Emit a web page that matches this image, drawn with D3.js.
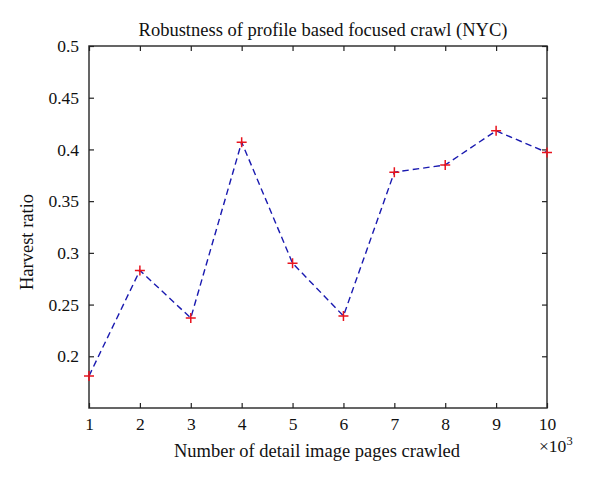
<!DOCTYPE html>
<html>
<head>
<meta charset="utf-8">
<script src="https://cdn.jsdelivr.net/npm/d3@7"></script>
<style>
  body { margin: 0; background: #fff; }
  svg text { font-family: "Liberation Serif", "DejaVu Serif", serif; fill: #111; }
</style>
</head>
<body>
<svg width="600" height="482"></svg>
<script>
const pages = [1, 2, 3, 4, 5, 6, 7, 8, 9, 10]
const harvestRatio = [0.181, 0.283, 0.237, 0.407, 0.290, 0.239, 0.378, 0.385, 0.418, 0.397]
const yTicks = [0.2, 0.25, 0.3, 0.35, 0.4, 0.45, 0.5]
const yTickLabels = ['0.2', '0.25', '0.3', '0.35', '0.4', '0.45', '0.5']

const M = { left: 89, right: 547, top: 46, bottom: 408 }

const svg = d3.select('svg')

const x = d3.scaleLinear().domain([1, 10]).range([M.left, M.right])
const y = d3.scaleLinear().domain([0.15, 0.5]).range([M.bottom, M.top])

const tickLen = 5
const axisColor = '#333'

// frame
svg.append('rect')
  .attr('x', M.left).attr('y', M.top)
  .attr('width', M.right - M.left).attr('height', M.bottom - M.top)
  .attr('fill', 'none').attr('stroke', axisColor).attr('stroke-width', 1.5)

// bottom axis
const xAxis = d3.axisBottom(x).tickValues(pages).tickFormat(d3.format('d'))
  .tickSizeInner(-tickLen).tickSizeOuter(0).tickPadding(10)
const gx = svg.append('g').attr('transform', `translate(0,${M.bottom})`).call(xAxis)
// top mirrored ticks
const gxt = svg.append('g').attr('transform', `translate(0,${M.top})`)
  .call(d3.axisTop(x).tickValues(pages).tickSizeInner(-tickLen).tickSizeOuter(0).tickFormat(''))

const yAxis = d3.axisLeft(y).tickValues(yTicks).tickFormat((d, i) => yTickLabels[i])
  .tickSizeInner(-tickLen).tickSizeOuter(0).tickPadding(10)
const gy = svg.append('g').attr('transform', `translate(${M.left},0)`).call(yAxis)
const gyr = svg.append('g').attr('transform', `translate(${M.right},0)`)
  .call(d3.axisRight(y).tickValues(yTicks).tickSizeInner(-tickLen).tickSizeOuter(0).tickFormat(''))

;[gx, gxt, gy, gyr].forEach(g => {
  g.select('.domain').remove()
  g.selectAll('line').attr('stroke', '#222').attr('stroke-width', 1.2)
  g.selectAll('text').style('font-size', '17.5px').attr('fill', '#111')
})

// line
const line = d3.line().x((d, i) => x(pages[i])).y(d => y(d))
svg.append('path')
  .datum(harvestRatio)
  .attr('d', line)
  .attr('fill', 'none')
  .attr('stroke', '#1a1ab0')
  .attr('stroke-width', 1.4)
  .attr('stroke-dasharray', '6.5,4')

// plus markers
const s = 5
svg.append('g').selectAll('path')
  .data(harvestRatio)
  .join('path')
  .attr('d', (d, i) => {
    const cx = x(pages[i]), cy = y(d)
    return `M${cx - s},${cy}H${cx + s}M${cx},${cy - s}V${cy + s}`
  })
  .attr('stroke', '#e8141e')
  .attr('stroke-width', 1.5)

// title and labels
svg.append('text')
  .attr('x', 323).attr('y', 36)
  .attr('text-anchor', 'middle').style('font-size', '18.5px')
  .text('Robustness of profile based focused crawl (NYC)')

svg.append('text')
  .attr('x', 317).attr('y', 457)
  .attr('text-anchor', 'middle').style('font-size', '18.5px')
  .text('Number of detail image pages crawled')

const mult = svg.append('text')
  .attr('x', 539).attr('y', 452).style('font-size', '17.5px')
mult.append('tspan').text('\u00d710')
mult.append('tspan').attr('dy', -7).style('font-size', '12.5px').text('3')

svg.append('text')
  .attr('transform', `translate(33,242) rotate(-90)`)
  .attr('text-anchor', 'middle').style('font-size', '18.5px')
  .text('Harvest ratio')
</script>
</body>
</html>
